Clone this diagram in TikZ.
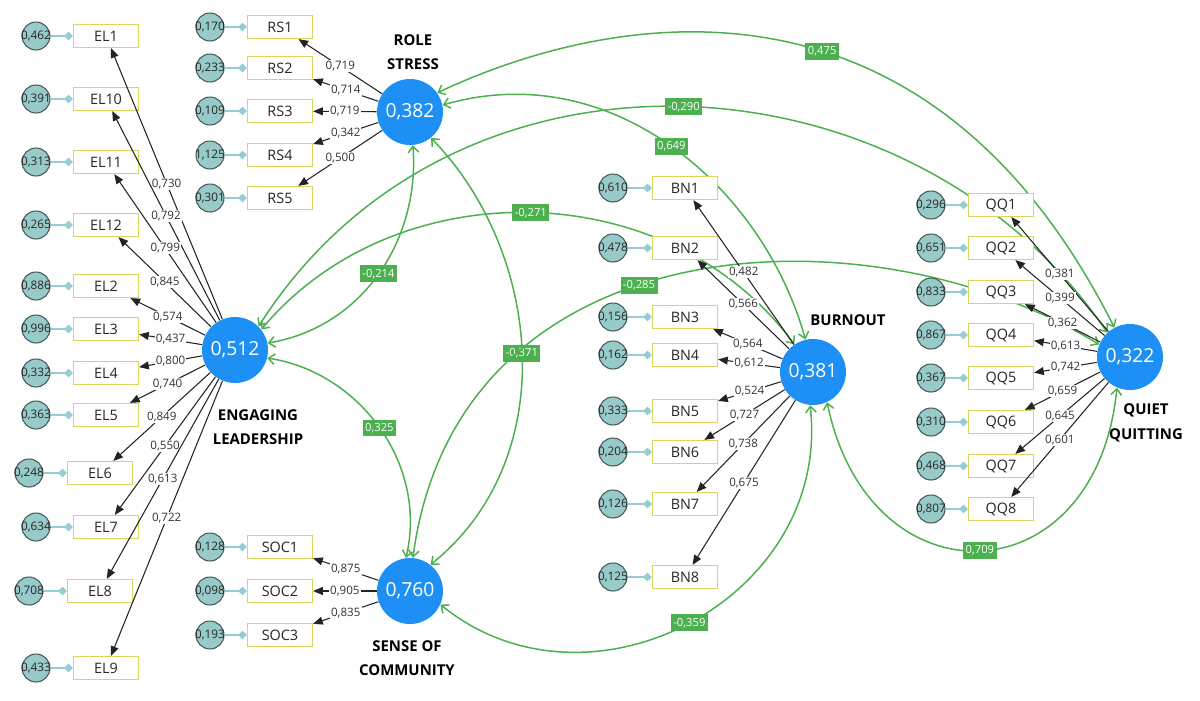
\documentclass[tikz,border=0pt]{standalone}
\usepackage{fontspec}
\setmainfont{Open Sans}
\usetikzlibrary{arrows.meta}

\definecolor{latc}{RGB}{30,144,245}
\definecolor{boxc}{RGB}{215,215,95}
\definecolor{errc}{RGB}{152,202,202}
\definecolor{errb}{RGB}{70,90,90}
\definecolor{tealc}{RGB}{150,205,210}
\definecolor{grn}{RGB}{76,175,80}
\definecolor{ldc}{RGB}{35,35,35}

\tikzset{
  lat/.style={circle, fill=latc, minimum size=1.32cm, inner sep=0pt, text=white, font=\fontsize{11}{13}\selectfont},
  latname/.style={align=center, font=\fontsize{8.5}{14}\selectfont\bfseries, text=black},
  ind/.style={draw=boxc, line width=0.7pt, fill=white, minimum width=1.3cm, minimum height=0.46cm, inner sep=0pt, font=\fontsize{8.2}{9}\selectfont, text=black!85},
  err/.style={circle, draw=errb, fill=errc, line width=0.6pt, minimum size=0.56cm, inner sep=-2pt, font=\fontsize{6.7}{7}\selectfont, text=black!85},
  errline/.style={draw=tealc, line width=0.9pt, -{Diamond[length=5pt,width=5pt]}},
  ldline/.style={draw=ldc, line width=0.6pt, -{Triangle[length=5.5pt,width=4.5pt]}},
  ldlab/.style={fill=white, inner sep=0.6pt, font=\fontsize{6.6}{7}\selectfont, text=black!80},
  strline/.style={draw=grn, line width=0.85pt, <->, >={Straight Barb[length=3.5pt,width=6pt]}},
  strlab/.style={fill=grn, text=white, inner xsep=1.4pt, inner ysep=2pt, font=\fontsize{6.4}{7}\selectfont}
}
\pgfdeclarelayer{bg}
\pgfsetlayers{bg,main}

\begin{document}
\begin{tikzpicture}[x=0.02cm,y=-0.02cm]
\useasboundingbox (0,0) rectangle (1200,700);

% latent variables
\node[lat] (EL) at (235,350) {0,512};
\node[lat] (RS) at (410,112) {0,382};
\node[lat] (SOC) at (410,591) {0,760};
\node[lat] (BN) at (813,372) {0,381};
\node[lat] (QQ) at (1130,357) {0,322};
\node[latname] (ELname) at (258,427) {ENGAGING\\LEADERSHIP};
\node[latname] (RSname) at (413,52) {ROLE\\STRESS};
\node[latname] (SOCname) at (407,658) {SENSE OF\\COMMUNITY};
\node[latname] (BNname) at (848,320) {BURNOUT};
\node[latname] (QQname) at (1146,423) {QUIET\\QUITTING};

% engaging leadership
\node[ind] (EL1) at (106,36) {EL1};
\node[ind] (EL10) at (106,99) {EL10};
\node[ind] (EL11) at (106,162) {EL11};
\node[ind] (EL12) at (106,225) {EL12};
\node[ind] (EL2) at (106,286) {EL2};
\node[ind] (EL3) at (106,329) {EL3};
\node[ind] (EL4) at (106,373) {EL4};
\node[ind] (EL5) at (106,415) {EL5};
\node[ind] (EL6) at (100,473) {EL6};
\node[ind] (EL7) at (106,527) {EL7};
\node[ind] (EL8) at (100,591) {EL8};
\node[ind] (EL9) at (106,668) {EL9};
\node[err] (eEL1) at (36,36) {0,462};
\node[err] (eEL10) at (36,99) {0,391};
\node[err] (eEL11) at (36,162) {0,313};
\node[err] (eEL12) at (36,225) {0,265};
\node[err] (eEL2) at (36,286) {0,886};
\node[err] (eEL3) at (36,329) {0,996};
\node[err] (eEL4) at (36,373) {0,332};
\node[err] (eEL5) at (36,415) {0,363};
\node[err] (eEL6) at (29,473) {0,248};
\node[err] (eEL7) at (36,527) {0,634};
\node[err] (eEL8) at (29,591) {0,708};
\node[err] (eEL9) at (36,668) {0,433};

% role stress
\node[ind] (RS1) at (280,27) {RS1};
\node[ind] (RS2) at (280,68) {RS2};
\node[ind] (RS3) at (280,111) {RS3};
\node[ind] (RS4) at (280,155) {RS4};
\node[ind] (RS5) at (280,198) {RS5};
\node[err] (eRS1) at (210,27) {0,170};
\node[err] (eRS2) at (210,68) {0,233};
\node[err] (eRS3) at (210,111) {0,109};
\node[err] (eRS4) at (210,155) {1,125};
\node[err] (eRS5) at (210,198) {0,301};

% sense of community
\node[ind] (SOC1) at (280,547) {SOC1};
\node[ind] (SOC2) at (280,591) {SOC2};
\node[ind] (SOC3) at (280,635) {SOC3};
\node[err] (eSOC1) at (210,547) {0,128};
\node[err] (eSOC2) at (210,591) {0,098};
\node[err] (eSOC3) at (210,635) {0,193};

% burnout
\node[ind] (BN1) at (685,188) {BN1};
\node[ind] (BN2) at (685,248) {BN2};
\node[ind] (BN3) at (685,317) {BN3};
\node[ind] (BN4) at (685,355) {BN4};
\node[ind] (BN5) at (685,411) {BN5};
\node[ind] (BN6) at (685,452) {BN6};
\node[ind] (BN7) at (685,504) {BN7};
\node[ind] (BN8) at (685,577) {BN8};
\node[err] (eBN1) at (613,188) {0,610};
\node[err] (eBN2) at (613,248) {0,478};
\node[err] (eBN3) at (613,317) {0,156};
\node[err] (eBN4) at (613,355) {0,162};
\node[err] (eBN5) at (613,411) {0,333};
\node[err] (eBN6) at (613,452) {0,204};
\node[err] (eBN7) at (613,504) {0,126};
\node[err] (eBN8) at (613,577) {0,125};

% quiet quitting
\node[ind] (QQ1) at (1001,205) {QQ1};
\node[ind] (QQ2) at (1001,248) {QQ2};
\node[ind] (QQ3) at (1001,292) {QQ3};
\node[ind] (QQ4) at (1001,335) {QQ4};
\node[ind] (QQ5) at (1001,378) {QQ5};
\node[ind] (QQ6) at (1001,422) {QQ6};
\node[ind] (QQ7) at (1001,466) {QQ7};
\node[ind] (QQ8) at (1001,509) {QQ8};
\node[err] (eQQ1) at (931,205) {0,296};
\node[err] (eQQ2) at (931,248) {0,651};
\node[err] (eQQ3) at (931,292) {0,833};
\node[err] (eQQ4) at (931,335) {0,867};
\node[err] (eQQ5) at (931,378) {0,367};
\node[err] (eQQ6) at (931,422) {0,310};
\node[err] (eQQ7) at (931,466) {0,468};
\node[err] (eQQ8) at (931,509) {0,807};

% error terms
\draw[errline] (eEL1) -- (EL1);
\draw[errline] (eEL10) -- (EL10);
\draw[errline] (eEL11) -- (EL11);
\draw[errline] (eEL12) -- (EL12);
\draw[errline] (eEL2) -- (EL2);
\draw[errline] (eEL3) -- (EL3);
\draw[errline] (eEL4) -- (EL4);
\draw[errline] (eEL5) -- (EL5);
\draw[errline] (eEL6) -- (EL6);
\draw[errline] (eEL7) -- (EL7);
\draw[errline] (eEL8) -- (EL8);
\draw[errline] (eEL9) -- (EL9);
\draw[errline] (eRS1) -- (RS1);
\draw[errline] (eRS2) -- (RS2);
\draw[errline] (eRS3) -- (RS3);
\draw[errline] (eRS4) -- (RS4);
\draw[errline] (eRS5) -- (RS5);
\draw[errline] (eSOC1) -- (SOC1);
\draw[errline] (eSOC2) -- (SOC2);
\draw[errline] (eSOC3) -- (SOC3);
\draw[errline] (eBN1) -- (BN1);
\draw[errline] (eBN2) -- (BN2);
\draw[errline] (eBN3) -- (BN3);
\draw[errline] (eBN4) -- (BN4);
\draw[errline] (eBN5) -- (BN5);
\draw[errline] (eBN6) -- (BN6);
\draw[errline] (eBN7) -- (BN7);
\draw[errline] (eBN8) -- (BN8);
\draw[errline] (eQQ1) -- (QQ1);
\draw[errline] (eQQ2) -- (QQ2);
\draw[errline] (eQQ3) -- (QQ3);
\draw[errline] (eQQ4) -- (QQ4);
\draw[errline] (eQQ5) -- (QQ5);
\draw[errline] (eQQ6) -- (QQ6);
\draw[errline] (eQQ7) -- (QQ7);
\draw[errline] (eQQ8) -- (QQ8);

% outer loadings
\draw[ldline] (EL) -- node[ldlab] {0,730} (EL1);
\draw[ldline] (EL) -- node[ldlab] {0,792} (EL10);
\draw[ldline] (EL) -- node[ldlab] {0,799} (EL11);
\draw[ldline] (EL) -- node[ldlab] {0,845} (EL12);
\draw[ldline] (EL) -- node[ldlab] {0,574} (EL2);
\draw[ldline] (EL) -- node[ldlab] {0,437} (EL3);
\draw[ldline] (EL) -- node[ldlab] {0,800} (EL4);
\draw[ldline] (EL) -- node[ldlab] {0,740} (EL5);
\draw[ldline] (EL) -- node[ldlab] {0,849} (EL6);
\draw[ldline] (EL) -- node[ldlab] {0,550} (EL7);
\draw[ldline] (EL) -- node[ldlab] {0,613} (EL8);
\draw[ldline] (EL) -- node[ldlab] {0,722} (EL9);
\draw[ldline] (RS) -- node[ldlab] {0,719} (RS1);
\draw[ldline] (RS) -- node[ldlab] {0,714} (RS2);
\draw[ldline] (RS) -- node[ldlab] {0,719} (RS3);
\draw[ldline] (RS) -- node[ldlab] {0,342} (RS4);
\draw[ldline] (RS) -- node[ldlab] {0,500} (RS5);
\draw[ldline] (SOC) -- node[ldlab] {0,875} (SOC1);
\draw[ldline] (SOC) -- node[ldlab] {0,905} (SOC2);
\draw[ldline] (SOC) -- node[ldlab] {0,835} (SOC3);
\draw[ldline] (BN) -- node[ldlab] {0,482} (BN1);
\draw[ldline] (BN) -- node[ldlab] {0,566} (BN2);
\draw[ldline] (BN) -- node[ldlab] {0,564} (BN3);
\draw[ldline] (BN) -- node[ldlab] {0,612} (BN4);
\draw[ldline] (BN) -- node[ldlab] {0,524} (BN5);
\draw[ldline] (BN) -- node[ldlab] {0,727} (BN6);
\draw[ldline] (BN) -- node[ldlab] {0,738} (BN7);
\draw[ldline] (BN) -- node[ldlab] {0,675} (BN8);
\draw[ldline] (QQ) -- node[ldlab] {0,381} (QQ1);
\draw[ldline] (QQ) -- node[ldlab] {0,399} (QQ2);
\draw[ldline] (QQ) -- node[ldlab] {0,362} (QQ3);
\draw[ldline] (QQ) -- node[ldlab] {0,613} (QQ4);
\draw[ldline] (QQ) -- node[ldlab] {0,742} (QQ5);
\draw[ldline] (QQ) -- node[ldlab] {0,659} (QQ6);
\draw[ldline] (QQ) -- node[ldlab] {0,645} (QQ7);
\draw[ldline] (QQ) -- node[ldlab] {0,601} (QQ8);

% structural paths
\begin{pgfonlayer}{bg}
\draw[strline] (RS.35) .. controls +(122,-58) and +(-206,-409) .. node[strlab,pos=0.6] {0,475} (QQ.118);
\draw[strline] (EL.45) .. controls +(196,-308) and +(-194,-286) .. node[strlab,pos=0.5] {-0,290} (QQ.133);
\draw[strline] (EL.38) .. controls +(134,-160) and +(-126,-171) .. node[strlab,pos=0.5] {-0,271} (BN.124);
\draw[strline] (EL.12) .. controls +(95,-16) and +(7,95) .. node[strlab,pos=0.5] {-0,214} (RS.-85);
\draw[strline] (RS.-51) .. controls +(110,113) and +(133,-107) .. node[strlab,pos=0.5] {-0,371} (SOC.52);
\draw[strline] (SOC.85) .. controls +(45,-337) and +(-228,-140) .. node[strlab,pos=0.44] {-0,285} (QQ.158);
\draw[strline] (EL.-14) .. controls +(92,14) and +(22,-94) .. node[strlab,pos=0.5] {0,325} (SOC.97);
\draw[strline] (RS.12) .. controls +(169,-49) and +(-43,-153) .. node[strlab,pos=0.5] {0,649} (BN.103);
\draw[strline] (SOC.-24) .. controls +(149,121) and +(22,193) .. node[strlab,pos=0.5] {-0,359} (BN.-95);
\draw[strline] (BN.-65) .. controls +(42,204) and +(-21,211) .. node[strlab,pos=0.5] {0,709} (QQ.-113);
\end{pgfonlayer}
\end{tikzpicture}
\end{document}
